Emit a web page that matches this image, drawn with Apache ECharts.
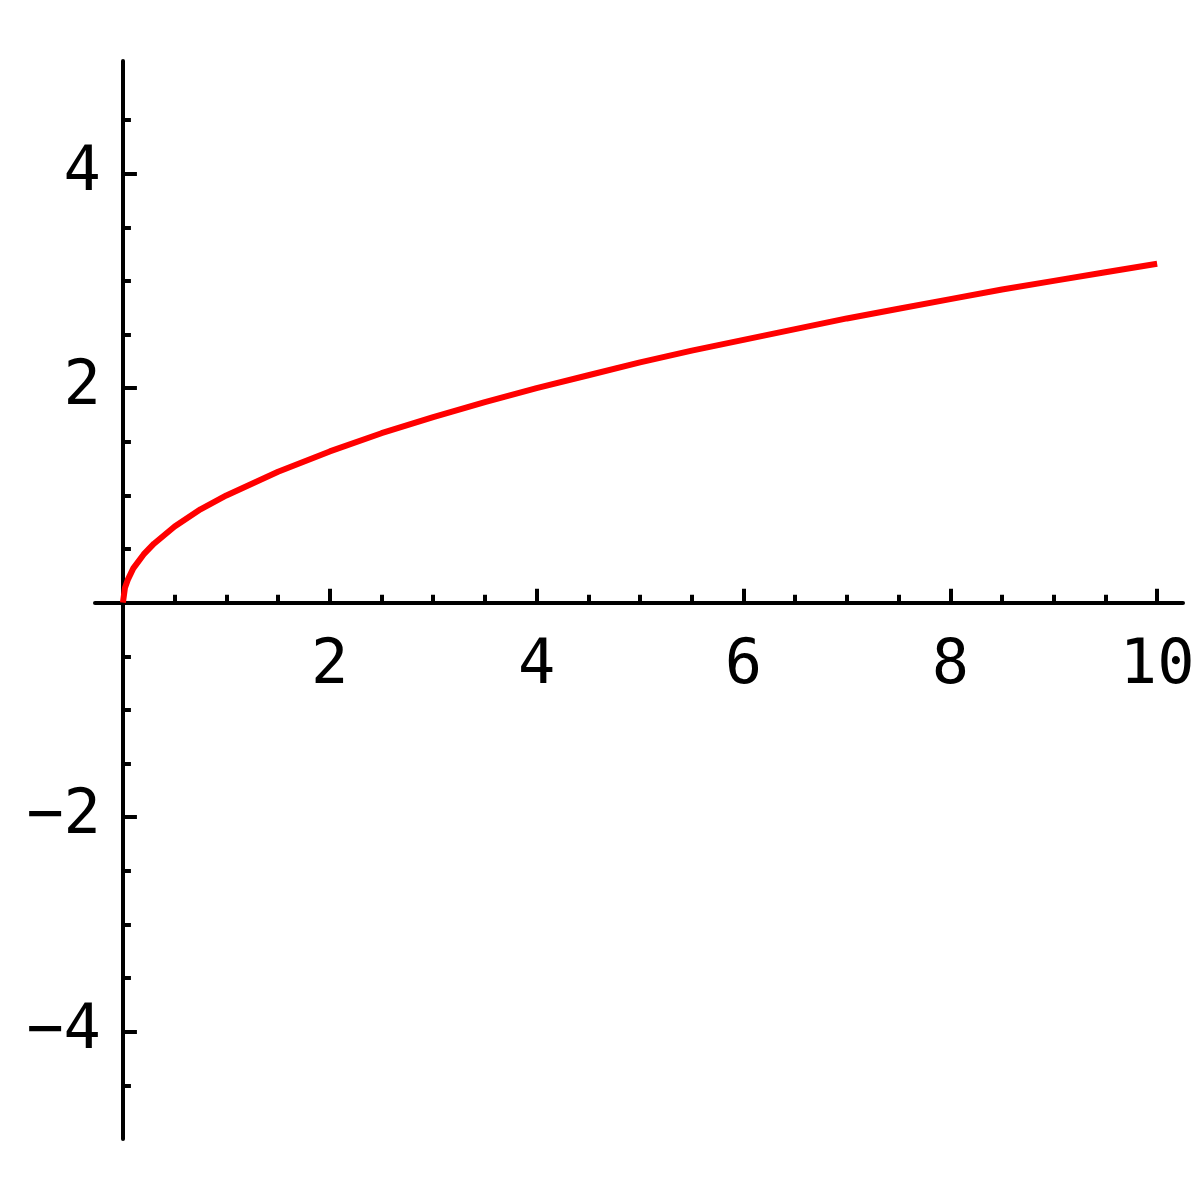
<!DOCTYPE html>
<html>
<head>
<meta charset="utf-8">
<script src="https://cdn.jsdelivr.net/npm/echarts@6/dist/echarts.min.js"></script>
<style>html,body{margin:0;padding:0;background:#fff;}#c{width:1200px;height:1200px;}</style>
</head>
<body>
<div id="c"></div>
<script>
// Values
var xValues = [0, 0.02, 0.05, 0.1, 0.2, 0.3, 0.5, 0.75, 1, 1.5, 2, 2.5, 3, 3.5, 4, 4.5, 5, 5.5, 6, 6.5, 7, 7.5, 8, 8.5, 9, 9.5, 10];
var yValues = [0, 0.14, 0.22, 0.32, 0.45, 0.55, 0.71, 0.87, 1.0, 1.22, 1.41, 1.58, 1.73, 1.87, 2.0, 2.12, 2.24, 2.35, 2.45, 2.55, 2.65, 2.74, 2.83, 2.92, 3.0, 3.08, 3.16];
var xMajorTicks = [2, 4, 6, 8, 10];
var xMinorTicks = [0.5, 1, 1.5, 2.5, 3, 3.5, 4.5, 5, 5.5, 6.5, 7, 7.5, 8.5, 9, 9.5];
var yMajorTicks = [-4, -2, 2, 4];
var yMinorTicks = [-4.5, -3.5, -3, -2.5, -1.5, -1, -0.5, 0.5, 1, 1.5, 2.5, 3, 3.5, 4.5];
var xRange = [-0.27, 10.25];
var yRange = [-5, 5.05];

var W = 1200, H = 1200;
var G = { left: 95, right: 17, top: 61, bottom: 61 };
var gridW = W - G.left - G.right, gridH = H - G.top - G.bottom;
// move axes so that they cross at zero (offset from grid edge)
var xAxisOffset = -gridH * (0 - yRange[0]) / (yRange[1] - yRange[0]);
var yAxisOffset = -gridW * (0 - xRange[0]) / (xRange[1] - xRange[0]);

var data = xValues.map(function (x, i) { return [x, yValues[i]]; });
var font = { fontFamily: 'DejaVu Sans Mono', fontSize: 62, color: '#000' };
function fmt(v) { return v < 0 ? '\u2212' + Math.abs(v) : String(v); }

var chart = echarts.init(document.getElementById('c'));
chart.setOption({
  animation: false,
  backgroundColor: '#fff',
  grid: { left: G.left, right: G.right, top: G.top, bottom: G.bottom, outerBoundsMode: 'none', containLabel: false },
  xAxis: [
    {
      type: 'value', min: xRange[0], max: xRange[1], position: 'bottom', offset: xAxisOffset,
      axisLine: { show: true, onZero: false, lineStyle: { color: '#000', width: 4 } },
      axisTick: { show: true, inside: true, length: 14, customValues: xMajorTicks, lineStyle: { color: '#000', width: 4 } },
      axisLabel: Object.assign({ show: true, margin: 33, customValues: xMajorTicks, formatter: fmt }, font),
      splitLine: { show: false }
    },
    {
      type: 'value', min: xRange[0], max: xRange[1], position: 'bottom', offset: xAxisOffset,
      axisLine: { show: false, onZero: false },
      axisTick: { show: true, inside: true, length: 8, customValues: xMinorTicks, lineStyle: { color: '#000', width: 4 } },
      axisLabel: { show: false },
      splitLine: { show: false }
    }
  ],
  yAxis: [
    {
      type: 'value', min: yRange[0], max: yRange[1], position: 'left', offset: yAxisOffset,
      axisLine: { show: true, onZero: false, lineStyle: { color: '#000', width: 4 } },
      axisTick: { show: true, inside: true, length: 14, customValues: yMajorTicks, lineStyle: { color: '#000', width: 4 } },
      axisLabel: Object.assign({ show: true, margin: 22, customValues: yMajorTicks, formatter: fmt }, font),
      splitLine: { show: false }
    },
    {
      type: 'value', min: yRange[0], max: yRange[1], position: 'left', offset: yAxisOffset,
      axisLine: { show: false, onZero: false },
      axisTick: { show: true, inside: true, length: 8, customValues: yMinorTicks, lineStyle: { color: '#000', width: 4 } },
      axisLabel: { show: false },
      splitLine: { show: false }
    }
  ],
  series: [{
    type: 'line', xAxisIndex: 0, yAxisIndex: 0, data: data,
    showSymbol: false, symbol: 'none', smooth: false,
    lineStyle: { color: '#ff0000', width: 6 }
  }]
});
</script>
</body>
</html>
